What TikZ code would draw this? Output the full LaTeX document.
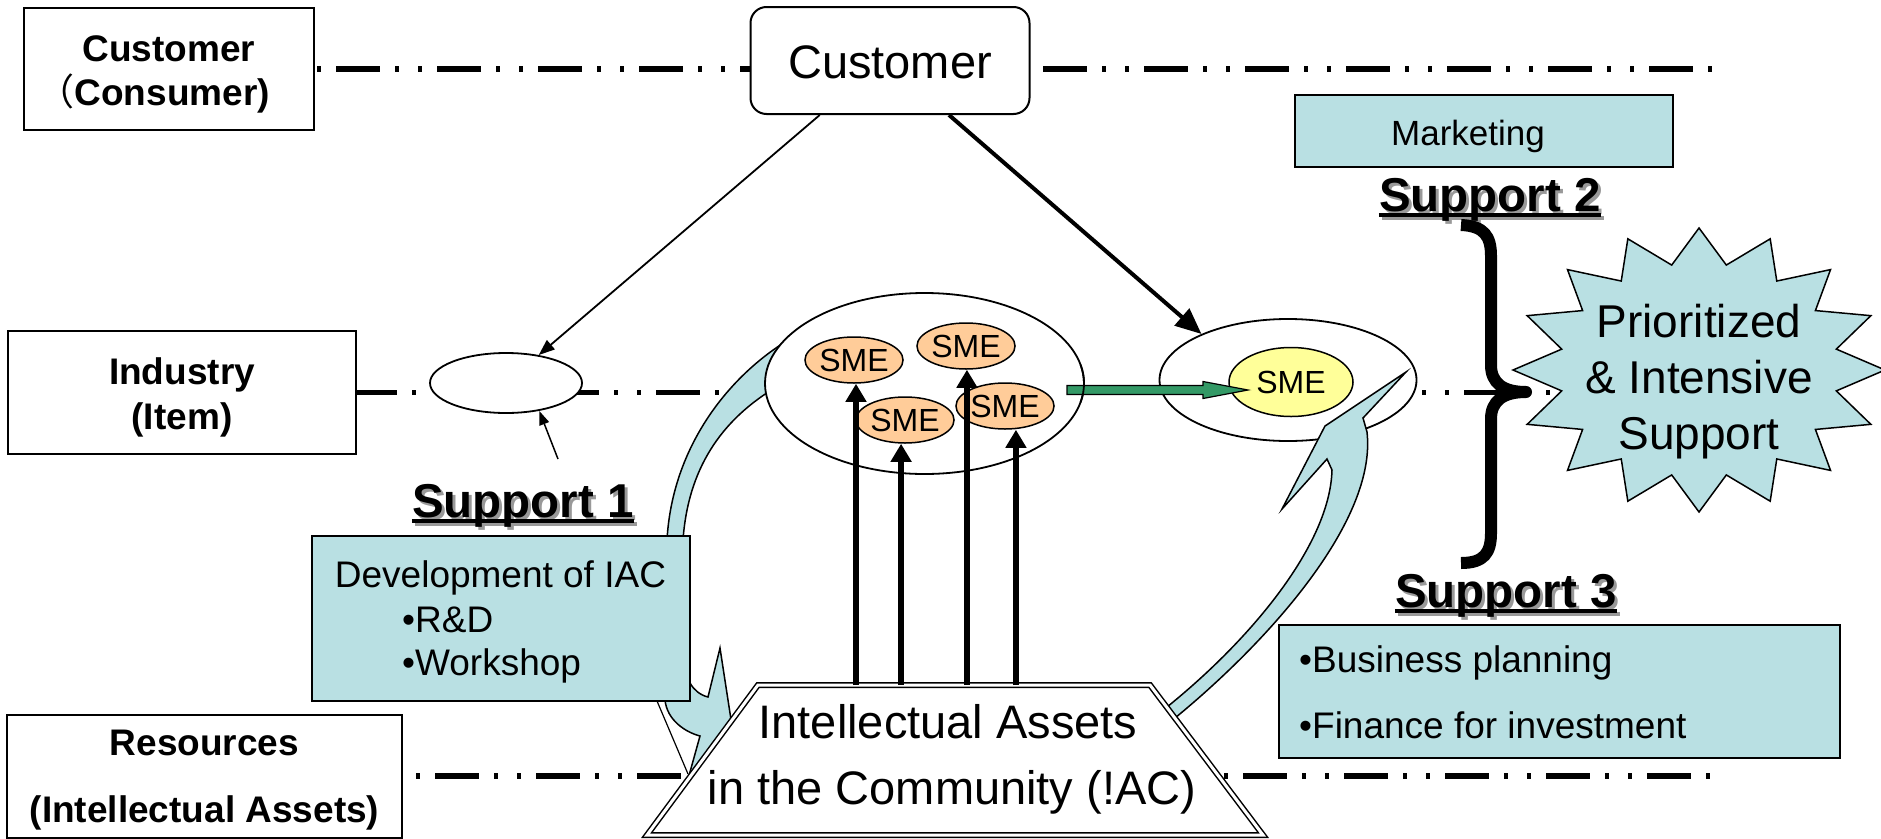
\documentclass[tikz,border=0pt]{standalone}
\usepackage{fontspec}
\setmainfont{Liberation Sans}
\newfontfamily\cjk{Noto Sans CJK SC}
\usetikzlibrary{arrows.meta,calc,shapes.geometric}
\definecolor{lblue}{RGB}{185,224,227}
\definecolor{smeor}{RGB}{255,204,153}
\definecolor{smeyel}{RGB}{255,255,153}
\definecolor{sgreen}{RGB}{51,153,102}
\newcommand\FontLbl{\fontsize{37pt}{44pt}\selectfont\bfseries}
\newcommand\FontBig{\fontsize{47pt}{56pt}\selectfont}
\newcommand\FontMid{\fontsize{35pt}{42pt}\selectfont}
\newcommand\FontBul{\fontsize{37pt}{44pt}\selectfont}
\newcommand\FontSup{\fontsize{47.5pt}{57pt}\selectfont\bfseries}
\newcommand\FontStar{\fontsize{46pt}{56pt}\selectfont}
\newcommand\FontSme{\fontsize{32pt}{38pt}\selectfont}
\newcommand\SupLbl[3]{%
  \node[txt, font=\FontSup, text=black!40] (#1s) at ($#2+(3,3)$) {#3};
  \draw[black!40, line width=3.5pt] ($(#1s.base west)+(0,4)$) -- ($(#1s.base east)+(0,4)$);
  \node[txt, font=\FontSup] (#1) at #2 {#3};
  \draw[line width=3.5pt] ($(#1.base west)+(0,4)$) -- ($(#1.base east)+(0,4)$);
}
\begin{document}
\begin{tikzpicture}[x=1pt,y=-1pt,
  box/.style={draw, line width=2pt, fill=white, inner sep=0pt},
  bbox/.style={draw, line width=2pt, fill=lblue, inner sep=0pt},
  txt/.style={inner sep=0pt, anchor=base},
  txtw/.style={inner sep=0pt, anchor=base west},
  ell/.style={ellipse, draw, line width=1.8pt, fill=white, inner sep=0pt},
  sme/.style={ellipse, draw, line width=1.5pt, fill=smeor, inner sep=0pt,
    minimum width=86pt, minimum height=46pt, font=\FontSme},
  dashline/.style={line width=5.5pt, dash pattern=on 44pt off 15pt on 4pt off 19pt on 4pt off 15pt},
  uparr/.style={line width=6pt, -{Triangle[length=18pt,width=20pt]}},
  bluearrow/.style={draw, line width=1.5pt, fill=lblue, line join=miter}
]
\useasboundingbox (0,0) rectangle (1881,838);

% level boxes
\node[box, minimum width=290pt, minimum height=122pt] (cc) at (169,69) {};
\node[box, minimum width=348pt, minimum height=123pt] (ind) at (182,392.5) {};
\node[box, minimum width=395pt, minimum height=123pt] (res) at (204.5,776) {};
\node[txt, font=\FontLbl] (cc1) at (169,61) {Customer};
\node[txt, anchor=base east, font=\FontLbl] (cc2) at (270,105) {{\cjk\mdseries （}Consumer)};
\node[txt, font=\FontLbl] (ind1) at (182,384) {Industry};
\node[txt, font=\FontLbl] (ind2) at (182,429) {(Item)};
\node[txt, font=\FontLbl] (res1) at (204.5,755) {Resources};
\node[txt, font=\FontLbl] (res2) at (204.5,822) {(Intellectual Assets)};

% dash-dot level lines
\coordinate (topend) at (1716,69);
\coordinate (midend) at (1600,392.5);
\coordinate (botstart) at (415,776);
\coordinate (botend) at (1716,776);
\draw[dashline, dash phase=80pt] (cc.east) -- (topend);
\draw[dashline, dash phase=4pt] (ind.east) -- (midend);
\draw[dashline, dash phase=81pt] (botstart) -- (botend);

% customer box
\node[box, rounded corners=16pt, minimum width=279pt, minimum height=107pt] (cust) at (890,60.5) {};
\node[txt, font=\FontBig] (custt) at (890,78) {Customer};

% marketing
\node[bbox, minimum width=378pt, minimum height=72pt] (mkt) at (1484,131) {};
\node[txt, font=\FontMid] (mktt) at (1468,145) {Marketing};

% left curved blue arrow
\draw[line width=1.2pt] (657,701) -- (688,774);
\draw[bluearrow] (785,342) .. controls (725,380) and (672,450) .. (667,540)
  -- (665,700) .. controls (667,720) and (685,732) .. (700,736)
  -- (690,772) -- (736,752) -- (720,648) -- (708,697)
  .. controls (700,695) and (694,690) .. (690,683)
  -- (683,540) .. controls (688,470) and (720,420) .. (778,386) -- cycle;

% support 1 box
\node[bbox, minimum width=378pt, minimum height=165pt] (s1box) at (501,618.5) {};
\node[txt, font=\FontBul] (s1a) at (500.5,587) {Development of IAC};
\node[txtw, font=\FontBul] (s1b) at (402,632) {•R\&D};
\node[txtw, font=\FontBul] (s1c) at (402,675) {•Workshop};

% ellipses
\node[ell, minimum width=152pt, minimum height=60pt] (ell1) at (506,383) {};
\node[ell, minimum width=319pt, minimum height=181pt] (bigell) at (924.5,383.5) {};
\node[ell, minimum width=257pt, minimum height=122pt] (ell2) at (1288,380) {};
\node[sme, fill=smeyel, minimum width=124pt, minimum height=69pt] (yel) at (1291,382) {SME};

% right curved blue arrow
\draw[bluearrow] (1167,707) .. controls (1250,640) and (1330,545) .. (1332,470)
  -- (1327,459) -- (1282,509) -- (1325,426) -- (1406,372) -- (1363,418) -- (1367,432)
  .. controls (1377,520) and (1270,640) .. (1175,718) -- cycle;

% intellectual assets trapezoid
\coordinate (iacTL) at (758,685);
\coordinate (iacTR) at (1150,685);
\coordinate (iacBR) at (1263,835);
\coordinate (iacBL) at (647,835);
\draw[double, double distance=3pt, line width=1.5pt, fill=white] (iacTL) -- (iacTR) -- (iacBR) -- (iacBL) -- cycle;
\node[txt, font=\FontBig] (iac1) at (948,738) {Intellectual Assets};
\node[txt, font=\FontBig] (iac2) at (952,804) {in the Community (!AC)};

% SMEs
\node[sme] (sme1) at (854,360) {SME};
\node[sme] (sme2) at (966,346) {SME};
\node[sme] (sme3) at (905,420) {SME};
\node[sme] (sme4) at (1005,406) {SME};

% upward arrows
\coordinate (a1) at ($(iacTL)!0.25!(iacTR)$);
\coordinate (a2) at ($(iacTL)!0.365!(iacTR)$);
\coordinate (a3) at ($(iacTL)!0.533!(iacTR)$);
\coordinate (a4) at ($(iacTL)!0.658!(iacTR)$);
\draw[uparr] (a1) -- (a1 |- sme1.south);
\draw[uparr] (a2) -- (a2 |- sme3.south);
\draw[uparr] (a3) -- (a3 |- sme2.south);
\draw[uparr] (a4) -- (a4 |- sme4.south);

% green arrow
\coordinate (gs) at (1067,390);
\coordinate (ge) at (1248,390);
\draw[fill=sgreen, line width=1.2pt] ($(gs)+(0,-4.5)$) -- ($(ge)+(-45,-4.5)$) -- ($(ge)+(-45,-8.5)$)
  -- (ge) -- ($(ge)+(-45,8.5)$) -- ($(ge)+(-45,4.5)$) -- ($(gs)+(0,4.5)$) -- cycle;
\draw[line width=1.8pt] (bigell.center) ++(-12:159.5pt and 90.5pt) arc[start angle=-12, end angle=12, x radius=159.5pt, y radius=90.5pt];

% customer arrows
\draw[line width=1.8pt, -{Triangle[length=16pt,width=12pt]}]
  ($(cust.south west)!0.25!(cust.south east)$) -- (ell1);
\draw[line width=4pt, -{Triangle[length=26pt,width=22pt]}]
  ($(cust.south west)!0.71!(cust.south east)$) -- (ell2.152);
\coordinate (s1tail) at (558,459);
\draw[line width=1.5pt, -{Triangle[length=14pt,width=10pt]}] (s1tail) -- (ell1.-40);

% support labels
\SupLbl{sup1}{(523,517)}{Support 1}
\SupLbl{sup2}{(1490,211)}{Support 2}
\SupLbl{sup3}{(1506,607)}{Support 3}

% support 3 box
\node[bbox, minimum width=561pt, minimum height=133pt] (s3box) at (1559.5,691.5) {};
\node[txtw, font=\FontBul] (s3a) at (1299,672) {•Business planning};
\node[txtw, font=\FontBul] (s3b) at (1299,738) {•Finance for investment};

% brace
\draw[line width=12pt, line join=round] (1461,225) .. controls (1484,226) and (1491,236) .. (1491,256)
  -- (1491,365) .. controls (1491,383) and (1503,392) .. (1526,392)
  .. controls (1503,392) and (1491,401) .. (1491,419)
  -- (1491,533) .. controls (1491,553) and (1484,563) .. (1461,563);

% star
\draw[line width=1.5pt, fill=lblue] plot[samples at={0,...,31}]
  ({1699+ifthenelse(iseven(\x),186,140)*sin(\x*11.25)},
   {370-ifthenelse(iseven(\x),142,107)*cos(\x*11.25)}) -- cycle;
\node[txt, font=\FontStar] (st1) at (1699,337) {Prioritized};
\node[txt, font=\FontStar] (st2) at (1699,393) {\& Intensive};
\node[txt, font=\FontStar] (st3) at (1699,449) {Support};
\end{tikzpicture}
\end{document}
